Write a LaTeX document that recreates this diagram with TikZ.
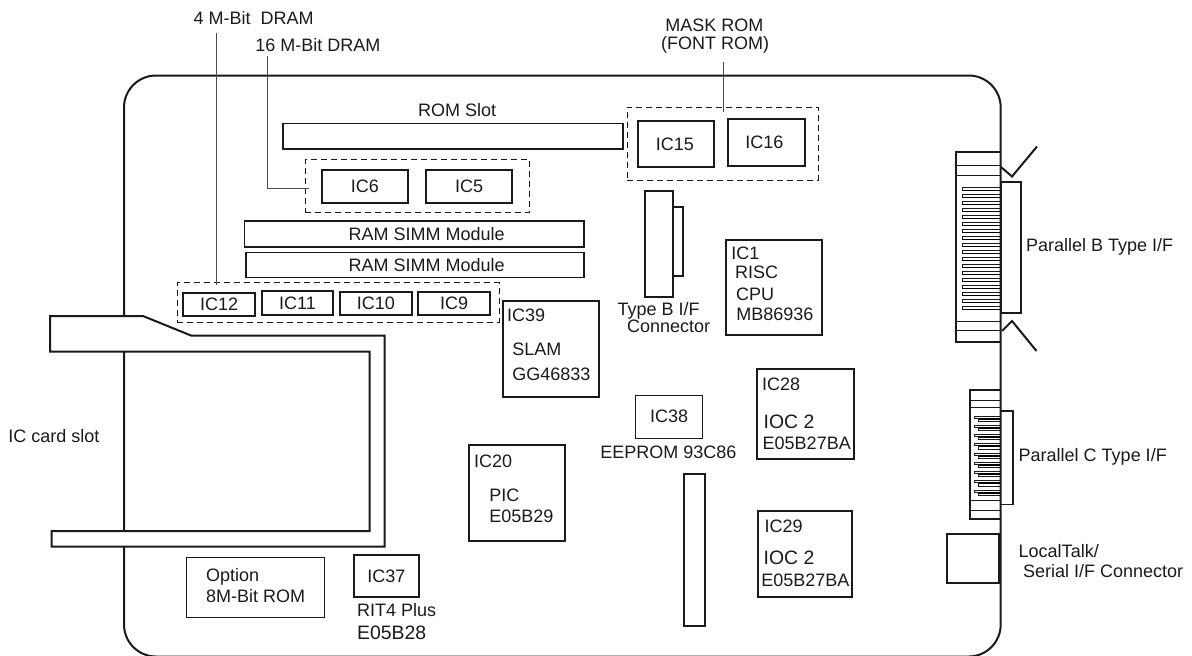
\documentclass[tikz,border=0pt]{standalone}
\usepackage{fontspec}
\setmainfont{Liberation Sans}
\usetikzlibrary{fit}
\definecolor{ink}{HTML}{1A1A1A}
\definecolor{lead}{HTML}{4A4A4A}
\definecolor{pin}{HTML}{8C8C8C}
\tikzset{
  board/.style={draw=ink,line width=1pt},
  chip/.style={draw=ink,line width=.85pt,inner sep=0pt},
  thinchip/.style={chip,line width=.5pt},
  group/.style={draw=ink,line width=.45pt,dash pattern=on 3pt off 2pt,inner sep=0pt},
  leader/.style={draw=lead,line width=.5pt},
  txt/.style={anchor=base west,inner sep=0pt,font=\fontsize{9}{10}\selectfont,text=ink},
  bigtxt/.style={txt,font=\fontsize{9.7}{10}\selectfont},
  every label/.style={inner sep=0pt,font=\fontsize{9}{10}\selectfont,text=ink},
}
\begin{document}
\begin{tikzpicture}[x=.5pt,y=-.5pt,line join=miter]
\useasboundingbox (0,0) rectangle (1192,655);
% board
\draw[board,rounded corners=16pt] (124,300)--(124,75.5)--(1000.7,75.5)--(1000.7,656.5)--(124,656.5)--cycle;
% card slot
\filldraw[board,fill=white] (50,316)--(143,316)--(191,335.5)--(384.5,335.5)--(384.5,546.5)--(51.5,546.5)--(51.5,531)--(369.5,531)--(369.5,351.5)--(50,351.5)--cycle;
% dashed groups
\node[group,fit={(177.3,282.7) (499,322.3)}] (grpfour) {};
\node[group,fit={(305.3,159.3) (529.3,212.7)}] (grpsixteen) {};
\node[group,fit={(627.3,107.3) (818.3,180.3)}] (grpmask) {};
% slots and chips
\node[chip,fit={(283,123.5) (622.7,149)}] (romslot) {};
\node[chip,fit={(244.5,221) (584,247)}] (simma) {};
\node[chip,fit={(246,252.5) (584,277.5)}] (simmb) {};
\foreach \nm/\xa/\ya/\xb/\yb in {12/183.3/293/255/316,11/261.7/291.3/333.3/314.7,10/340/292/411.7/315,9/418/292/490/315,6/321.7/170/408/202.7,5/426/170/512.3/202.7}{
  \node[chip,fit={(\xa,\ya) (\xb,\yb)},label={center:IC\nm}] (ic\nm) {};
}
\node[chip,fit={(637.7,120.7) (714.3,167.3)},label={[xshift=-.6pt]center:IC15}] (ic15) {};
\node[chip,fit={(728.3,119) (804.7,166)},label={[xshift=-1.1pt]center:IC16}] (ic16) {};
\node[chip,fit={(354,555) (418.7,597)},label={center:IC37}] (ic37) {};
\node[thinchip,fit={(635.3,395) (702.7,438.3)},label={center:IC38}] (ic38) {};
\node[chip,fit={(726,240) (822,335)}] (ic1) {};
\node[chip,fit={(502.7,301.3) (598.7,397)}] (ic39) {};
\node[chip,fit={(468.7,445.3) (565,541)}] (ic20) {};
\node[chip,fit={(756.7,369) (854.3,459)}] (ic28) {};
\node[chip,fit={(758,511) (851.7,597)}] (ic29) {};
\node[chip,fit={(683.7,474.3) (705.3,626)}] (tallslot) {};
\node[thinchip,fit={(186.3,557) (324.3,617)}] (optrom) {};
% type b connector on the board
\node[chip,fit={(644.7,190.7) (673.3,296.7)}] (typeb) {};
\node[chip,fit={(673.3,207) (683,276)}] (typebtab) {};
% parallel b connector
\draw[board] (1000.7,152)--(955.7,152)--(955.7,342.3)--(1000.7,342.3);
\draw[ink,line width=.5pt] (955.7,165.7)--(1000.7,165.7) (955.7,175)--(1000.7,175) (955.7,321)--(1000.7,321) (955.7,330.7)--(1000.7,330.7);
\foreach \i in {0,...,17}{
  \draw[ink,line width=.5pt] (1000,187.3+\i*7)--(962.3,187.3+\i*7)--(962.3,190.3+\i*7);
  \draw[pin,line width=.75pt] (962.3,190.3+\i*7)--(1000,190.3+\i*7);
}
\draw[chip] (1001,182.3) rectangle (1020.7,313);
\draw[board] (1001,167)--(1012,176.5)--(1037,146.5);
\draw[board] (1002,331)--(1012,321)--(1036.5,351);
% parallel c connector
\draw[board] (1000.7,390)--(970,390)--(970,519)--(1000.7,519);
\draw[ink,line width=.5pt] (970,400)--(1000.7,400) (970,407.7)--(1000.7,407.7) (970,500.7)--(1000.7,500.7) (970,510.7)--(1000.7,510.7);
\foreach \i in {0,...,8}{
  \draw[ink,line width=.4pt] (1000,416+\i*9.25)--(974.3,416+\i*9.25)--(974.3,418+\i*9.25)--(978.5,418+\i*9.25);
  \draw[pin,line width=.9pt] (978.5,418.6+\i*9.25)--(1000,418.6+\i*9.25);
  \draw[ink,line width=.4pt] (978.5,418+\i*9.25)--(978.5,421.2+\i*9.25)--(1000,421.2+\i*9.25);
}
\draw[chip] (1001,411)--(1012.7,411)--(1012.7,504.6)--(1001,504.6);
\draw[board] (999,534.3)--(947,534.3)--(947,582.7)--(999,582.7)--cycle;
% labels
\node[txt] (dramfour) at (193.3,24) {4 M-Bit\ \ DRAM};
\node[txt] (dramsixteen) at (255,51) {16 M-Bit DRAM};
\node[txt] (maskrom) at (665,31) {MASK ROM};
\node[txt] (fontrom) at (660.7,49) {(FONT ROM)};
\node[txt] (romlbl) at (417.7,116.7) {ROM Slot};
\node[txt] (simmalbl) at (348.3,240) {RAM SIMM Module};
\node[txt] (simmblbl) at (348.3,271) {RAM SIMM Module};
\node[txt] (slotlbl) at (8,442) {IC card slot};
\node[txt] (optlbl) at (205.7,581) {Option};
\node[txt] (optromlbl) at (205.7,602) {8M-Bit ROM};
\node[txt] (ritlbl) at (356.7,616) {RIT4 Plus};
\node[bigtxt] (ritnum) at (356.7,639.3) {E05B28};
\node[txt] (iconelbl) at (731,259) {IC1};
\node[txt] (risclbl) at (734.7,278.7) {RISC};
\node[txt] (cpulbl) at (735.7,300.7) {CPU};
\node[txt] (cpunum) at (736,320) {MB86936};
\node[txt] (typeblbl) at (617.3,315.7) {Type B I/F};
\node[txt] (connlbl) at (626.7,332.7) {Connector};
\node[txt] (slamic) at (506.7,321.3) {IC39};
\node[txt] (slamlbl) at (512,355) {SLAM};
\node[txt] (slamnum) at (512,380.7) {GG46833};
\node[txt] (picic) at (473.7,467.7) {IC20};
\node[txt] (piclbl) at (489,501) {PIC};
\node[txt] (picnum) at (489,522) {E05B29};
\node[txt] (eeplbl) at (600,458.7) {EEPROM 93C86};
\node[txt] (iocaic) at (761.7,390) {IC28};
\node[bigtxt] (iocalbl) at (763.3,428.3) {IOC 2};
\node[txt] (iocanum) at (762.3,449.3) {E05B27BA};
\node[txt] (iocbic) at (764.3,532) {IC29};
\node[bigtxt] (iocblbl) at (763.3,564.3) {IOC 2};
\node[txt] (iocbnum) at (761,586) {E05B27BA};
\node[txt] (parblbl) at (1025.7,251.7) {Parallel B Type I/F};
\node[txt] (parclbl) at (1018.3,461) {Parallel C Type I/F};
\node[txt] (talklbl) at (1018.3,557.7) {LocalTalk/};
\node[txt] (seriallbl) at (1022.7,577.3) {Serial I/F Connector};
% leaders
\coordinate (leadfour) at (216.3,0);
\coordinate (leadsixteen) at (267,0);
\coordinate (leadmask) at (723,0);
\draw[leader,shorten >=-1.6pt] ([yshift=-4pt]dramfour.south -| leadfour)--(leadfour |- grpfour.north);
\draw[leader,shorten >=-2.3pt] ([yshift=-2pt]dramsixteen.south -| leadsixteen)|-([yshift=-1pt]grpsixteen.west);
\draw[leader,shorten >=-2.8pt] ([yshift=-4.5pt]fontrom.south -| leadmask)--(leadmask |- grpmask.north);
\end{tikzpicture}
\end{document}
